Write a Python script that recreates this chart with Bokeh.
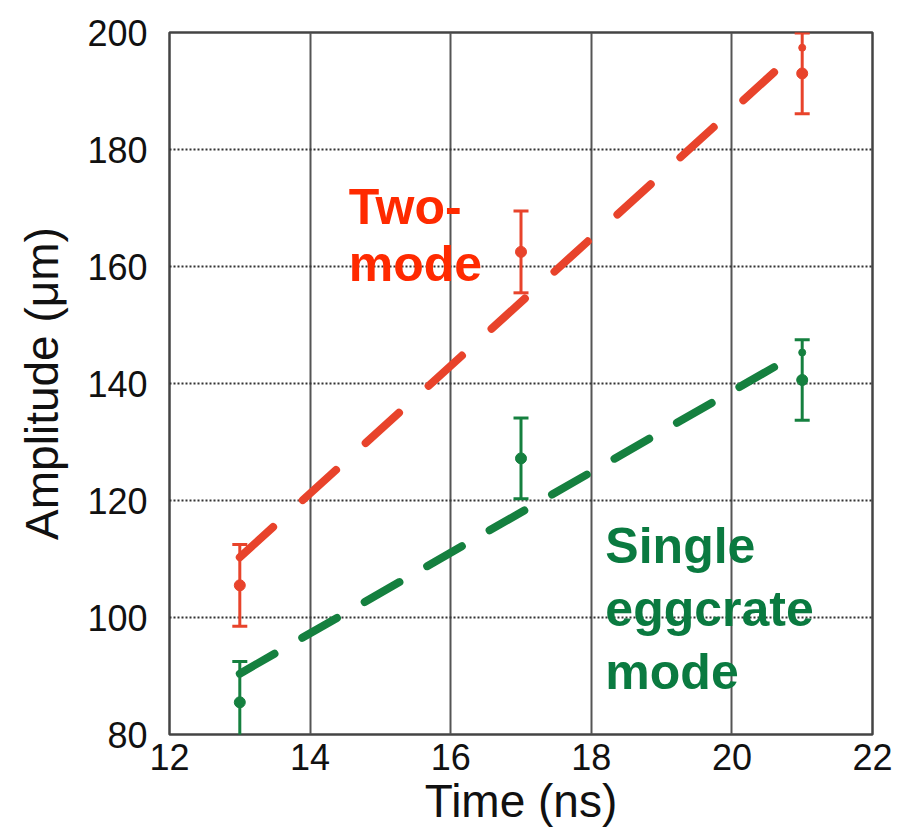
from bokeh.plotting import figure
from bokeh.models import ColumnDataSource, FixedTicker
from bokeh.core.properties import value
from bokeh.embed import file_html
from bokeh.resources import INLINE

# ---- data ----
time_ns = [13, 17, 21]
two_mode_amp = [105.5, 162.5, 193.0]
two_mode_err = [7.0, 7.0, 6.9]
single_amp = [85.5, 127.2, 140.6]
single_err = [7.0, 6.9, 6.9]

extra_time = [21]
two_mode_extra = [197.4]
single_extra = [145.3]

fit_time = [13.0, 20.6]
two_mode_fit = [110.3, 193.2]
single_fit = [90.4, 142.8]

x_ticks = [12, 14, 16, 18, 20, 22]
y_ticks = [80, 100, 120, 140, 160, 180, 200]

RED_LINE = "#e8432b"
RED_TEXT = "#ff2a00"
GREEN_LINE = "#15803f"
GREEN_TEXT = "#0a7a40"
FONT = "Liberation Sans"

p = figure(width=908, height=829, output_backend="svg", toolbar_location=None,
           x_range=(12, 22), y_range=(80, 200),
           min_border_left=169, min_border_right=36, min_border_top=32, min_border_bottom=95)
p.background_fill_color = "white"
p.border_fill_color = "white"
p.outline_line_color = "#444444"
p.outline_line_width = 2.5

for ax in (p.xaxis[0], p.yaxis[0]):
    ax.major_label_text_font = FONT
    ax.major_label_text_font_size = "36px"
    ax.major_label_text_color = "#111111"
    ax.axis_label_text_font = FONT
    ax.axis_label_text_font_size = "46px"
    ax.axis_label_text_font_style = "normal"
    ax.axis_label_text_color = "#111111"
    ax.major_tick_line_color = None
    ax.minor_tick_line_color = None
    ax.axis_line_color = None

p.xaxis.ticker = FixedTicker(ticks=x_ticks)
p.yaxis.ticker = FixedTicker(ticks=y_ticks)
p.xaxis.axis_label = "Time (ns)"
p.yaxis.axis_label = "Amplitude (\u03bcm)"
p.xaxis.major_label_standoff = 3
p.xaxis.axis_label_standoff = 2
p.yaxis.major_label_standoff = 16
p.yaxis.axis_label_standoff = 16

p.xgrid.grid_line_color = "#555555"
p.xgrid.grid_line_width = 2
p.ygrid.grid_line_color = "#333333"
p.ygrid.grid_line_width = 2
p.ygrid.grid_line_dash = "2 2"

# fit lines
p.line(fit_time, two_mode_fit, line_color=RED_LINE, line_width=8, line_dash="45 40", line_cap="round")
p.line(fit_time, single_fit, line_color=GREEN_LINE, line_width=8, line_dash="40 32", line_cap="round")

def err_series(amp, err, color, extra):
    src = ColumnDataSource(dict(
        x=time_ns, y=amp,
        lo=[a - e for a, e in zip(amp, err)],
        hi=[a + e for a, e in zip(amp, err)],
    ))
    p.segment(x0="x", y0="lo", x1="x", y1="hi", source=src, line_color=color, line_width=3)
    p.scatter(x="x", y="lo", source=src, marker="dash", size=15, line_color=color, line_width=3)
    p.scatter(x="x", y="hi", source=src, marker="dash", size=15, line_color=color, line_width=3)
    p.scatter(x="x", y="y", source=src, marker="circle", size=11, fill_color=color, line_color=color)
    p.scatter(extra_time, extra, marker="circle", size=7, fill_color=color, line_color=color)

err_series(two_mode_amp, two_mode_err, RED_LINE, two_mode_extra)
err_series(single_amp, single_err, GREEN_LINE, single_extra)

# in-plot labels
p.text(x=[14.55, 14.55], y=[170.1, 160.5], text=["Two-", "mode"],
       text_font=value(FONT), text_font_size="50px", text_font_style="bold",
       text_color=RED_TEXT, text_baseline="alphabetic", text_align="left")
p.text(x=[18.2, 18.2, 18.2], y=[112.3, 101.5, 90.6], text=["Single", "eggcrate", "mode"],
       text_font=value(FONT), text_font_size="50px", text_font_style="bold",
       text_color=GREEN_TEXT, text_baseline="alphabetic", text_align="left")

open("out.html", "w").write(file_html(p, INLINE))
